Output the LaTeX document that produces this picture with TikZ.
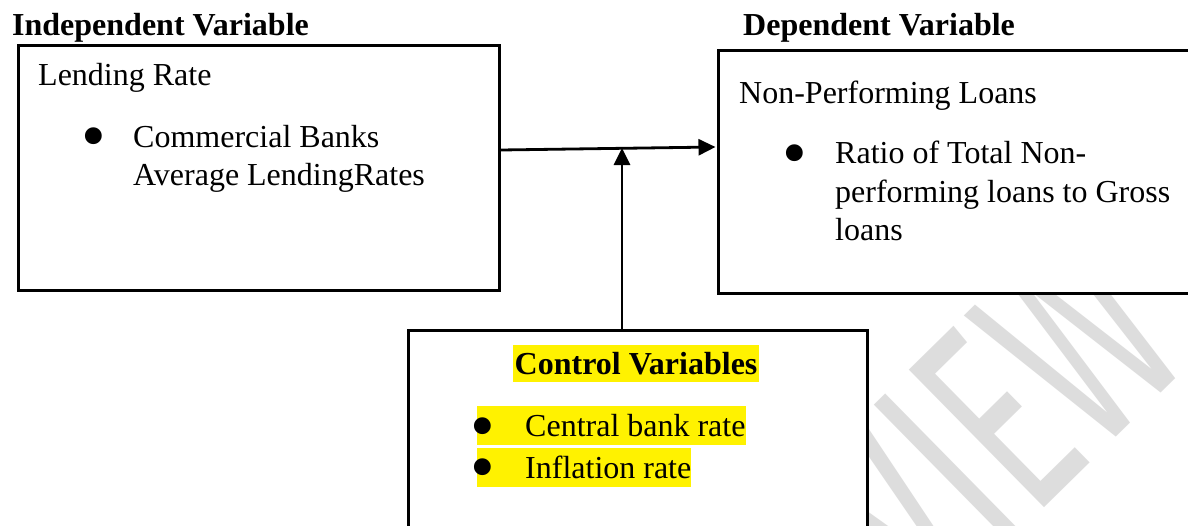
\documentclass[tikz,border=0pt]{standalone}
\usepackage{fontspec}
\setmainfont{Liberation Serif}
\newfontfamily\wmfont{Fira Sans}
\usetikzlibrary{arrows.meta,calc}
\definecolor{wmgray}{RGB}{221,221,221}
\newcommand\bigbull{\raisebox{-12.5pt}{\scalebox{2.2}{•}}}
\begin{document}
\begin{tikzpicture}[x=1pt,y=-1pt,
  txt/.style={anchor=base west, inner sep=0pt, font=\fontsize{32}{38}\selectfont},
  head/.style={anchor=base west, inner sep=0pt, font=\fontsize{32}{38}\selectfont\bfseries},
  box/.style={draw=black, line width=2.8pt, fill=white, anchor=north west, inner sep=0pt, rectangle},
  hl/.style={fill=yellow, anchor=base west, inner xsep=0pt, inner ysep=0pt, text height=31pt, text depth=8.5pt, font=\fontsize{32}{38}\selectfont},
  arr/.style={line width=2.8pt, -{Triangle[length=17pt,width=16pt]}},
  wm/.style={text=wmgray, inner sep=0pt, font=\fontsize{280}{280}\wmfont}
]
\useasboundingbox (0,0) rectangle (1188,525);
\clip (0,0) rectangle (1188,525);
\fill[white] (0,0) rectangle (1188,525);

% watermark
\node[wm, rotate=44.5, anchor=base east] (wmark) at (1196,359) {\scalebox{0.6}[1]{PREVIEW}};

% boxes
\node[box, minimum width=481pt, minimum height=245pt] (lbox) at (17,44) {};
\node[box, minimum width=480pt, minimum height=243pt] (rbox) at (717,49) {};
\node[box, minimum width=459pt, minimum height=220pt] (cbox) at (407,329) {};

% headings
\node[head] (ivh) at (12,35) {Independent Variable};
\node[head] (dvh) at (743,35) {Dependent Variable};

% left box text
\node[txt] (lr) at (38,85) {Lending Rate};
\node[txt] (lb1) at (81,147) {\bigbull};
\node[txt] (lt1) at (133,147) {Commercial Banks};
\node[txt] (lt2) at (133,185.5) {Average LendingRates};

% right box text
\node[txt] (npl) at (739,103) {Non-Performing Loans};
\node[txt] (rb1) at (782,163.5) {\bigbull};
\node[txt] (rt1) at (835,163.5) {Ratio of Total Non-};
\node[txt] (rt2) at (835,202) {performing loans to Gross};
\node[txt] (rt3) at (835,240.5) {loans};

% control box text
\node[hl, text height=29pt, text depth=8pt, inner xsep=1.5pt, font=\fontsize{32}{38}\selectfont\bfseries] (cvh) at (513,374) {Control Variables};
\node[hl] (cb1) at (477,436.5) {\makebox[48pt][l]{\kern-6.5pt\bigbull}Central bank rate};
\node[hl, text height=30.5pt, text depth=8.7pt] (cb2) at (477,478.3) {\makebox[48pt][l]{\kern-6.5pt\bigbull}Inflation rate};

% connectors
\coordinate (meet) at (622,148);
\draw[arr] ($(lbox.north east)+(0,106)$) -- ($(rbox.north west)+(-1.5,98)$);
\draw[arr] ($(cbox.north west)+(215,0)$) -- (meet);
\end{tikzpicture}
\end{document}
